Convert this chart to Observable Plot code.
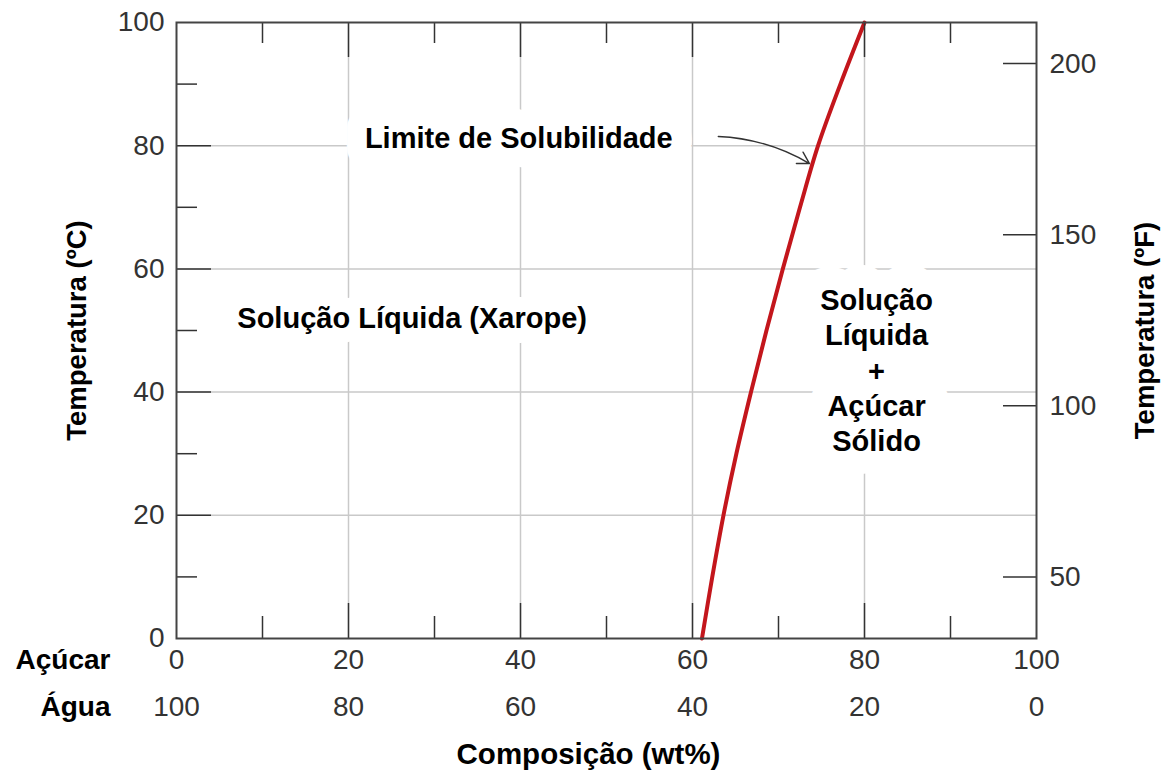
<!DOCTYPE html>
<html>
<head>
<meta charset="utf-8">
<script src="https://cdn.jsdelivr.net/npm/d3@7"></script>
<script src="https://cdn.jsdelivr.net/npm/@observablehq/plot@0.6"></script>
<style>
  html, body { margin: 0; padding: 0; background: #fff; }
  svg { display: block; }
</style>
</head>
<body>
<div id="chart"></div>
<script>
// ---- data ----
const sugarTicks = [0, 20, 40, 60, 80, 100];          // wt% sugar (first row); water = 100 - sugar
const minorTicks = [10, 30, 50, 70, 90];
const innerMajorTicks = [20, 40, 60, 80];
const celsiusTicks = [0, 20, 40, 60, 80, 100];
const fahrenheitTicks = [50, 100, 150, 200];

// solubility limit
const solubilityTemp  = [0,    10,   20,   30,   40,   50,   60,   70,   80,   90,   100];
const solubilitySugar = [61.1, 62.3, 63.6, 65.1, 66.8, 68.6, 70.5, 72.5, 74.6, 77.2, 80.0];

// annotations
const regionLabels = ["Limite de Solubilidade", "Solução Líquida (Xarope)", "Solução\nLíquida\n+\nAçúcar\nSólido"];
const regionX = [39.8, 27.4, 81.4];
const regionY = [81.4, 52.3, 43.7];
const arrowFrom = [63.0, 81.5];
const arrowTo = [73.6, 77.1];

// ---- build ----
const solubility = solubilityTemp.map((t, i) => ({T: t, C: solubilitySugar[i]}));
const regions = regionLabels.map((t, i) => ({text: t, x: regionX[i], y: regionY[i]}));
const toC = f => (f - 32) / 1.8;

const W = 1162, H = 783;
const mL = 176, mR = 126, mT = 22, mB = 145;
const FW = W - mL - mR, FH = H - mT - mB;

const tickStroke = "#333";
const gridStroke = "#c9c9c9";
const bold = {fontWeight: "bold", fill: "black"};
const regionFont = {x: "x", y: "y", text: "text", fontSize: 29, lineHeight: 1.22, fontWeight: "bold"};
const halo = sw => ({...regionFont, fill: "white", stroke: "white", strokeWidth: sw, strokeLinejoin: "round"});

const chart = Plot.plot({
  width: W,
  height: H,
  marginLeft: mL,
  marginRight: mR,
  marginTop: mT,
  marginBottom: mB,
  style: {fontFamily: "'Liberation Sans', Arial, sans-serif", background: "white", overflow: "visible"},
  x: {domain: [0, 100], axis: null},
  y: {domain: [0, 100], axis: null},
  marks: [
    // grid
    Plot.ruleX(innerMajorTicks, {stroke: gridStroke, strokeWidth: 1.5}),
    Plot.ruleY(innerMajorTicks, {stroke: gridStroke, strokeWidth: 1.5}),
    // arrow
    Plot.arrow([0], {x1: () => arrowFrom[0], y1: () => arrowFrom[1], x2: () => arrowTo[0], y2: () => arrowTo[1],
      bend: 14, stroke: "#333", strokeWidth: 1.4, headLength: 14}),
    // white boxes behind region labels
    Plot.text([regions[0]], halo(40)),
    Plot.text([regions[1]], halo(30)),
    Plot.text([regions[2]], halo(46)),
    // region labels
    Plot.text(regions, {...regionFont, fill: "black"}),
    // solubility curve
    Plot.line(solubility, {x: "C", y: "T", curve: "catmull-rom", stroke: "#c3161c", strokeWidth: 4}),
    // ticks (inward)
    Plot.ruleX(innerMajorTicks, {insetTop: FH - 35, stroke: tickStroke, strokeWidth: 1.5}),
    Plot.ruleX(minorTicks, {insetTop: FH - 22, stroke: tickStroke, strokeWidth: 1.5}),
    Plot.ruleX(innerMajorTicks, {insetBottom: FH - 35, stroke: tickStroke, strokeWidth: 1.5}),
    Plot.ruleX(minorTicks, {insetBottom: FH - 21, stroke: tickStroke, strokeWidth: 1.5}),
    Plot.ruleY(innerMajorTicks, {insetRight: FW - 35, stroke: tickStroke, strokeWidth: 1.5}),
    Plot.ruleY(minorTicks, {insetRight: FW - 21, stroke: tickStroke, strokeWidth: 1.5}),
    Plot.ruleY(fahrenheitTicks, {y: toC, insetLeft: FW - 33, stroke: tickStroke, strokeWidth: 1.5}),
    Plot.frame({stroke: "#444", strokeWidth: 2}),
    // tick labels
    Plot.text(sugarTicks, {x: d => d, frameAnchor: "bottom", lineAnchor: "middle", dy: 22, text: d => String(d), fontSize: 28, fill: "#333"}),
    Plot.text(sugarTicks, {x: d => d, frameAnchor: "bottom", lineAnchor: "middle", dy: 68.5, text: d => String(100 - d), fontSize: 28, fill: "#333"}),
    Plot.text(celsiusTicks, {y: d => d, frameAnchor: "left", textAnchor: "end", dx: -12, text: d => String(d), fontSize: 28, fill: "#333"}),
    Plot.text(fahrenheitTicks, {y: toC, frameAnchor: "right", textAnchor: "start", dx: 13, text: d => String(d), fontSize: 28, fill: "#333"}),
    // axis titles
    Plot.text(["Açúcar"], {frameAnchor: "bottom-left", textAnchor: "end", lineAnchor: "middle", dx: -66, dy: 22, text: d => d, fontSize: 28, ...bold}),
    Plot.text(["Água"], {frameAnchor: "bottom-left", textAnchor: "end", lineAnchor: "middle", dx: -66, dy: 68.5, text: d => d, fontSize: 28, ...bold}),
    Plot.text(["Composição (wt%)"], {frameAnchor: "bottom", lineAnchor: "middle", dx: -18, dy: 116, text: d => d, fontSize: 29.5, ...bold}),
    Plot.text(["Temperatura (ºC)"], {frameAnchor: "left", textAnchor: "middle", lineAnchor: "middle", rotate: -90, dx: -99, text: d => d, fontSize: 27.5, ...bold}),
    Plot.text(["Temperatura (ºF)"], {frameAnchor: "right", textAnchor: "middle", lineAnchor: "middle", rotate: -90, dx: 109, text: d => d, fontSize: 27.5, ...bold})
  ]
});
document.getElementById("chart").appendChild(chart);
</script>
</body>
</html>
